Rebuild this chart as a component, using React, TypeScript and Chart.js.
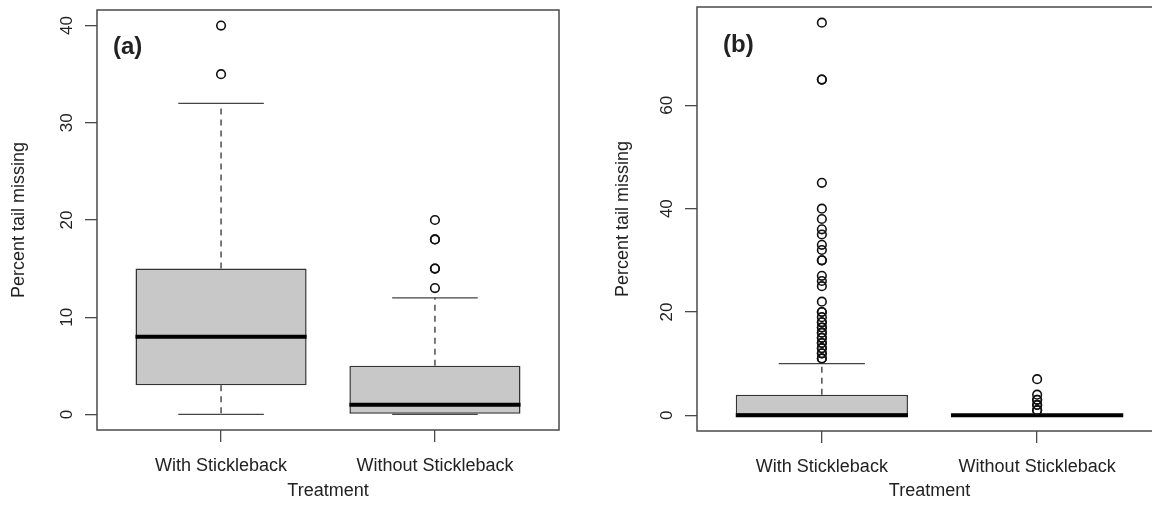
import React, { useEffect, useRef } from 'react';
import { Chart, registerables } from 'chart.js';

Chart.register(...registerables);

const categories = ['With Stickleback', 'Without Stickleback'];
const xPositions = [1, 2];

// Panel (a)
const aWhiskerLow = [0, 0];
const aQ1 = [3, 0];
const aMedian = [8, 1];
const aQ3 = [15, 5];
const aWhiskerHigh = [32, 12];
const aOutliersWith = [35, 40];
const aOutliersWithout = [13, 15, 15, 18, 18, 20];
const aYTicks = [0, 10, 20, 30, 40];

// Panel (b)
const bWhiskerLow = [0, 0];
const bQ1 = [0, 0];
const bMedian = [0, 0];
const bQ3 = [4, 0];
const bWhiskerHigh = [10, 0];
const bOutliersWith = [11, 11, 12, 12, 13, 13, 14, 14, 15, 15, 16, 16, 17, 17, 18, 18, 19, 20, 20, 22, 25, 26, 27, 30, 30, 32, 33, 35, 36, 38, 40, 45, 65, 65, 76];
const bOutliersWithout = [1, 1, 2, 2, 3, 3, 4, 7];
const bYTicks = [0, 20, 40, 60];

const FONT = 'Liberation Sans, Arial, Helvetica, sans-serif';
const TEXT = '#222222';
const AXIS = '#4a4a4a';

type PanelSpec = {
  tag: string;
  lo: number[]; q1: number[]; med: number[]; q3: number[]; hi: number[];
  outliers: number[][];
  yTicks: number[];
  padTop: number; padRight: number; yAxisW: number; xAxisH: number;
  yTitlePad: number; tagDx: number; tagDy: number;
};

function gapJoin(segs: { x: number; y: number }[][]) {
  const out: any[] = [];
  segs.forEach((s, i) => {
    if (i > 0) out.push({ x: s[0].x, y: null });
    s.forEach(p => out.push(p));
  });
  return out;
}

function buildConfig(p: PanelSpec): any {
  const all = [...p.lo, ...p.hi, ...p.outliers.flat()];
  const dmin = Math.min(...all);
  const dmax = Math.max(...all);
  const ext = (dmax - dmin) * 0.04;
  const xExt = (2.5 - 0.5) * 0.04;

  const boxData = xPositions.map((x, i) => ({ x, y: [p.q1[i], p.q3[i]] }));
  const whiskers = gapJoin(xPositions.flatMap((x, i) => [
    [{ x, y: p.q3[i] }, { x, y: p.hi[i] }],
    [{ x, y: p.q1[i] }, { x, y: p.lo[i] }],
  ]));
  const caps = gapJoin(xPositions.flatMap((x, i) => [
    [{ x: x - 0.2, y: p.hi[i] }, { x: x + 0.2, y: p.hi[i] }],
    [{ x: x - 0.2, y: p.lo[i] }, { x: x + 0.2, y: p.lo[i] }],
  ]));
  const medians = gapJoin(xPositions.map((x, i) => [
    { x: x - 0.4, y: p.med[i] }, { x: x + 0.4, y: p.med[i] },
  ]));
  const outs = xPositions.flatMap((x, i) => p.outliers[i].map(v => ({ x, y: v })));

  const numFont = { family: FONT, size: 17 };
  const labelFont = { family: FONT, size: 18 };

  const framePlugin = {
    id: 'frame' + p.tag.replace(/\W/g, ''),
    afterDraw(chart: any) {
      const { ctx, chartArea: a } = chart;
      ctx.save();
      ctx.strokeStyle = AXIS;
      ctx.lineWidth = 1.5;
      ctx.strokeRect(a.left, a.top, a.right - a.left, a.bottom - a.top);
      ctx.fillStyle = TEXT;
      ctx.font = `bold 24px ${FONT}`;
      ctx.textBaseline = 'middle';
      ctx.textAlign = 'left';
      ctx.fillText(p.tag, a.left + p.tagDx, a.top + p.tagDy);
      ctx.restore();
    },
  };

  return {
    type: 'bar',
    data: {
      datasets: [
        {
          type: 'bar', data: boxData, backgroundColor: '#c8c8c8', borderColor: '#333333',
          borderWidth: 1.5, borderSkipped: false, barPercentage: 0.8, categoryPercentage: 1.0, order: 4,
        },
        {
          type: 'line', data: whiskers, borderColor: '#333333', borderWidth: 1.3, borderDash: [6, 5],
          pointRadius: 0, spanGaps: false, fill: false, order: 3,
        },
        {
          type: 'line', data: caps, borderColor: '#444444', borderWidth: 1.3,
          pointRadius: 0, spanGaps: false, fill: false, order: 2,
        },
        {
          type: 'line', data: medians, borderColor: '#000000', borderWidth: 4, borderCapStyle: 'butt',
          pointRadius: 0, spanGaps: false, fill: false, order: 1,
        },
        {
          type: 'scatter', data: outs, borderColor: '#111111', backgroundColor: 'rgba(0,0,0,0)',
          pointRadius: 4.3, pointBorderWidth: 1.6, pointStyle: 'circle', showLine: false, order: 0,
        },
      ],
    },
    options: {
      responsive: false,
      animation: false,
      events: [],
      layout: { padding: { top: p.padTop, right: p.padRight, left: 0, bottom: 0 } },
      plugins: { legend: { display: false }, tooltip: { enabled: false }, title: { display: false } },
      scales: {
        x: {
          type: 'linear', min: 0.5 - xExt, max: 2.5 + xExt, offset: false,
          afterBuildTicks: (s: any) => { s.ticks = xPositions.map(v => ({ value: v })); },
          afterFit: (s: any) => { s.height = p.xAxisH; s.paddingLeft = 0; s.paddingRight = 0; },
          ticks: {
            autoSkip: false, maxRotation: 0, minRotation: 0, padding: 13, font: labelFont, color: TEXT,
            callback: (v: number) => { const k = xPositions.indexOf(v); return k >= 0 ? categories[k] : ''; },
          },
          grid: { display: true, offset: false, drawOnChartArea: false, drawTicks: true, tickLength: 12, color: AXIS, lineWidth: 1.3 },
          border: { display: false },
          title: { display: true, text: 'Treatment', font: labelFont, color: TEXT, padding: { top: 0, bottom: 19 } },
        },
        y: {
          type: 'linear', min: dmin - ext, max: dmax + ext,
          afterBuildTicks: (s: any) => { s.ticks = p.yTicks.map(v => ({ value: v })); },
          afterFit: (s: any) => { s.width = p.yAxisW; s.paddingTop = 0; s.paddingBottom = 0; },
          ticks: {
            minRotation: 90, maxRotation: 90, crossAlign: 'center', padding: 8, font: numFont, color: TEXT,
            callback: (v: number) => String(v),
          },
          grid: { display: true, offset: false, drawOnChartArea: false, drawTicks: true, tickLength: 12, color: AXIS, lineWidth: 1.3 },
          border: { display: false },
          title: { display: true, text: 'Percent tail missing', font: labelFont, color: TEXT, padding: { top: p.yTitlePad, bottom: 0 } },
        },
      },
    },
    plugins: [framePlugin],
  };
}

const panelA: PanelSpec = {
  tag: '(a)', lo: aWhiskerLow, q1: aQ1, med: aMedian, q3: aQ3, hi: aWhiskerHigh,
  outliers: [aOutliersWith, aOutliersWithout], yTicks: aYTicks,
  padTop: 10, padRight: 17, yAxisW: 97, xAxisH: 91, yTitlePad: 8, tagDx: 16, tagDy: 37,
};

const panelB: PanelSpec = {
  tag: '(b)', lo: bWhiskerLow, q1: bQ1, med: bMedian, q3: bQ3, hi: bWhiskerHigh,
  outliers: [bOutliersWith, bOutliersWithout], yTicks: bYTicks,
  padTop: 7, padRight: 14, yAxisW: 121, xAxisH: 90, yTitlePad: 36, tagDx: 26, tagDy: 38,
};

function Panel({ spec, left, width }: { spec: PanelSpec; left: number; width: number }) {
  const ref = useRef<HTMLCanvasElement | null>(null);
  useEffect(() => {
    if (!ref.current) return;
    const chart = new Chart(ref.current, buildConfig(spec));
    return () => chart.destroy();
  }, [spec]);
  return (
    <canvas
      ref={ref}
      width={width}
      height={521}
      style={{ position: 'absolute', left, top: 0, width, height: 521, display: 'block' }}
    />
  );
}

export default function App() {
  return (
    <div style={{ position: 'fixed', left: 0, top: 0, width: 1152, height: 521, overflow: 'hidden', background: '#ffffff' }}>
      <Panel spec={panelA} left={0} width={576} />
      <Panel spec={panelB} left={576} width={600} />
    </div>
  );
}
